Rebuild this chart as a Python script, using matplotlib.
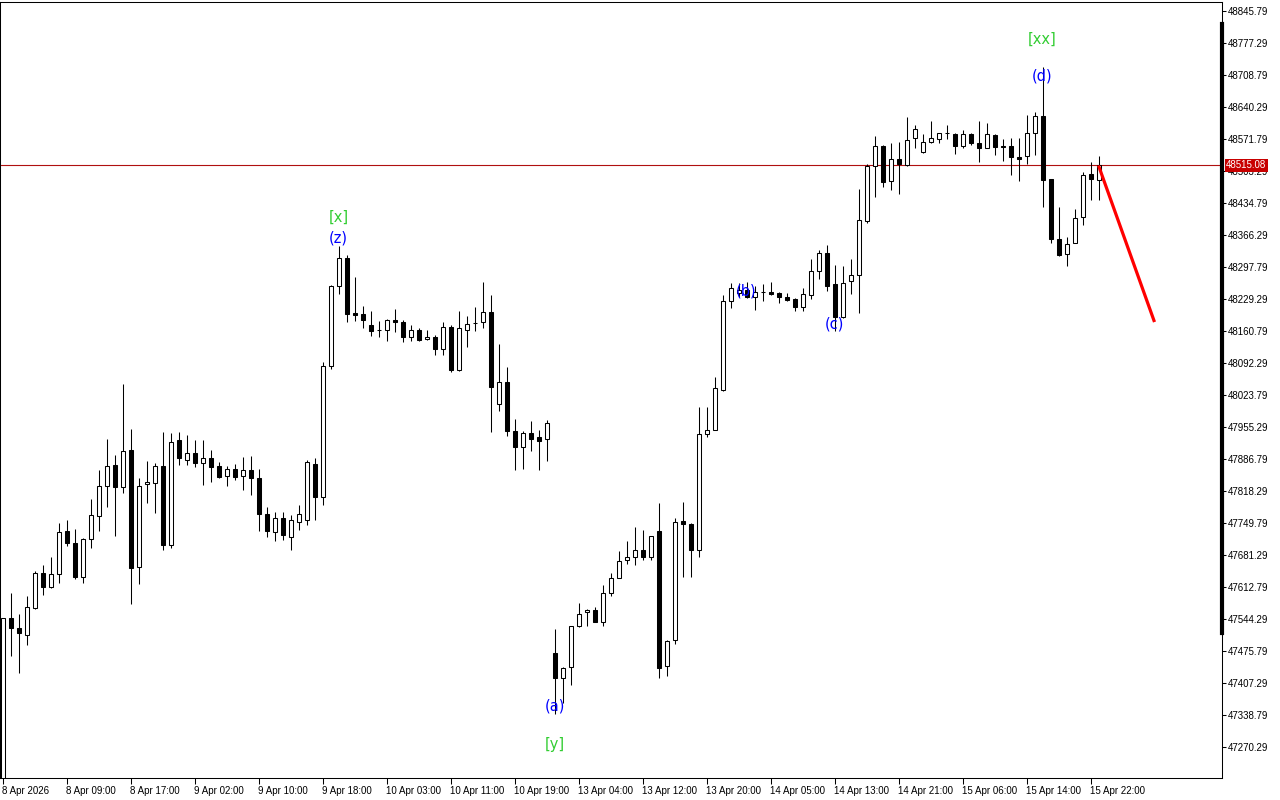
import matplotlib
matplotlib.use("Agg")
import matplotlib.pyplot as plt
from matplotlib.patches import Rectangle

# hourly candles from 8 Apr 2026 00:00 (bar index 0) to 15 Apr 22:00
opens = [47150, 47546, 47526, 47511, 47568, 47642, 47613, 47640, 47733, 47708,
         47635, 47715, 47765, 47828, 47873, 47826, 47906, 47656, 47833, 47835,
         47871, 47703, 47927, 47884, 47899, 47878, 47888, 47871, 47850, 47865,
         47850, 47863, 47846, 47768, 47731, 47760, 47720, 47752, 47756, 47876,
         47806, 48086, 48257, 48316, 48199, 48197, 48174, 48163, 48162, 48184,
         48179, 48147, 48164, 48143, 48148, 48123, 48169, 48078, 48164, 48177,
         48179, 48201, 48004, 48051, 47946, 47913, 47942, 47934, 47929, 47471,
         47419, 47442, 47530, 47559, 47563, 47537, 47601, 47631, 47670, 47678,
         47693, 47678, 47732, 47444, 47499, 47754, 47747, 47691, 47940, 47948,
         48035, 48224, 48243, 48249, 48233, 48244, 48244, 48242, 48234, 48229,
         48213, 48237, 48289, 48327, 48261, 48191, 48267, 48280, 48396, 48514,
         48556, 48481, 48530, 48516, 48575, 48543, 48565, 48571, 48584, 48582,
         48556, 48582, 48563, 48552, 48580, 48556, 48556, 48533, 48536, 48584,
         48620, 48486, 48357, 48325, 48349, 48404, 48496, 48483]
highs = [47546, 47599, 47556, 47594, 47647, 47660, 47676, 47749, 47756, 47738,
         47717, 47801, 47863, 47929, 47895, 48047, 47950, 47846, 47883, 47878,
         47945, 47942, 47944, 47938, 47927, 47927, 47905, 47880, 47871, 47876,
         47891, 47893, 47865, 47783, 47774, 47773, 47767, 47788, 47885, 47888,
         48094, 48259, 48343, 48324, 48276, 48214, 48204, 48182, 48186, 48208,
         48184, 48173, 48167, 48164, 48152, 48179, 48173, 48204, 48192, 48212,
         48266, 48237, 48134, 48084, 47972, 47946, 47968, 47948, 47970, 47522,
         47441, 47530, 47578, 47565, 47569, 47618, 47642, 47690, 47711, 47742,
         47735, 47721, 47792, 47499, 47761, 47795, 47749, 47998, 47999, 48063,
         48238, 48264, 48264, 48266, 48257, 48261, 48265, 48245, 48242, 48232,
         48252, 48314, 48335, 48344, 48302, 48300, 48314, 48464, 48518, 48578,
         48560, 48563, 48565, 48618, 48602, 48582, 48610, 48584, 48602, 48584,
         48591, 48584, 48610, 48605, 48582, 48571, 48573, 48573, 48624, 48629,
         48725, 48486, 48426, 48361, 48421, 48501, 48522, 48535]
lows = [47100, 47465, 47428, 47489, 47566, 47596, 47611, 47622, 47701, 47630,
        47622, 47697, 47733, 47785, 47723, 47815, 47577, 47620, 47793, 47772,
        47693, 47696, 47873, 47875, 47870, 47832, 47838, 47847, 47828, 47841,
        47821, 47810, 47733, 47719, 47712, 47713, 47692, 47735, 47746, 47756,
        47788, 48080, 48241, 48179, 48183, 48168, 48151, 48147, 48140, 48159,
        48137, 48139, 48140, 48142, 48110, 48110, 48072, 48076, 48127, 48160,
        48168, 47944, 47990, 47935, 47863, 47865, 47904, 47863, 47882, 47340,
        47365, 47404, 47528, 47530, 47537, 47529, 47593, 47631, 47661, 47659,
        47670, 47670, 47419, 47422, 47490, 47634, 47634, 47678, 47933, 47948,
        48033, 48211, 48234, 48231, 48205, 48226, 48237, 48220, 48224, 48204,
        48203, 48229, 48273, 48247, 48161, 48189, 48239, 48200, 48391, 48448,
        48469, 48463, 48453, 48513, 48552, 48541, 48563, 48563, 48571, 48539,
        48552, 48560, 48522, 48552, 48537, 48524, 48494, 48481, 48519, 48537,
        48426, 48349, 48321, 48300, 48349, 48387, 48442, 48442]
closes = [47546, 47524, 47514, 47569, 47642, 47613, 47640, 47731, 47708, 47635,
          47715, 47766, 47830, 47871, 47826, 47904, 47654, 47830, 47837, 47871,
          47703, 47923, 47890, 47899, 47878, 47888, 47870, 47849, 47865, 47849,
          47863, 47846, 47768, 47733, 47760, 47724, 47756, 47769, 47880, 47806,
          48086, 48257, 48316, 48197, 48196, 48185, 48161, 48164, 48184, 48179,
          48147, 48164, 48142, 48149, 48123, 48169, 48078, 48167, 48175, 48178,
          48201, 48041, 48051, 47946, 47913, 47942, 47930, 47926, 47964, 47419,
          47439, 47530, 47556, 47563, 47537, 47601, 47631, 47668, 47678, 47693,
          47678, 47721, 47439, 47497, 47751, 47747, 47691, 47940, 47948, 48039,
          48224, 48252, 48249, 48234, 48244, 48245, 48241, 48234, 48228, 48213,
          48239, 48289, 48327, 48258, 48191, 48263, 48280, 48398, 48514, 48556,
          48480, 48530, 48518, 48569, 48593, 48565, 48573, 48584, 48585, 48556,
          48582, 48563, 48552, 48582, 48554, 48554, 48533, 48530, 48584, 48620,
          48483, 48357, 48324, 48348, 48402, 48494, 48486, 48515.08]

bid = 48515.08
forecast_bars = [137, 144]
forecast_prices = [48515.08, 48180]

# wave labels: text, bar, anchor ("high"/"low"), pixel offset, colour
waves = [
    ("[x]", 42, "high", 29, "limegreen"),
    ("(z)", 42, "high", 8, "blue"),
    ("(a)", 69, "low", 8, "blue"),
    ("[y]", 69, "low", -30, "limegreen"),
    ("(b)", 93, "high", -9, "blue"),
    ("(c)", 104, "low", 7, "blue"),
    ("(d)", 130, "high", -9, "blue"),
    ("[xx]", 130, "high", 28, "limegreen"),
]

ytick_vals = [48845.79, 48777.29, 48708.79, 48640.29, 48571.79, 48503.29,
              48434.79, 48366.29, 48297.79, 48229.29, 48160.79, 48092.29,
              48023.79, 47955.29, 47886.79, 47818.29, 47749.79, 47681.29,
              47612.79, 47544.29, 47475.79, 47407.29, 47338.79, 47270.29]
xtick_labels = ["8 Apr 2026", "8 Apr 09:00", "8 Apr 17:00", "9 Apr 02:00",
                "9 Apr 10:00", "9 Apr 18:00", "10 Apr 03:00", "10 Apr 11:00",
                "10 Apr 19:00", "13 Apr 04:00", "13 Apr 12:00", "13 Apr 20:00",
                "14 Apr 05:00", "14 Apr 13:00", "14 Apr 21:00", "15 Apr 06:00",
                "15 Apr 14:00", "15 Apr 22:00"]
xtick_step = 8

W, H = 1280, 800
ax_left, ax_right, ax_top, ax_bottom = 0, 1222, 2, 778
bar_px = 8
first_bar_px = 2.5
px_per_price = 32 / 68.5
top_tick_px = 11

fig = plt.figure(figsize=(W / 100, H / 100), dpi=100)
ax = fig.add_axes([ax_left / W, (H - ax_bottom) / H,
                   (ax_right - ax_left) / W, (ax_bottom - ax_top) / H])

x0 = -first_bar_px / bar_px
ax.set_xlim(x0, x0 + (ax_right - ax_left) / bar_px)
y_hi = ytick_vals[0] + (top_tick_px - ax_top) / px_per_price
y_lo = ytick_vals[0] - (ax_bottom - top_tick_px) / px_per_price
ax.set_ylim(y_lo, y_hi)

lw = 0.75
body_w = 0.5
for i, (o, h, l, c) in enumerate(zip(opens, highs, lows, closes)):
    ax.plot([i, i], [l, h], color="black", lw=lw, solid_capstyle="butt",
            zorder=2)
    bottom = min(o, c)
    height = max(abs(c - o), 0.01)
    face = "white" if c >= o else "black"
    ax.add_patch(Rectangle((i - body_w / 2, bottom), body_w, height,
                           facecolor=face, edgecolor="black", lw=lw, zorder=3))

ax.axhline(bid, color="#b01010", lw=0.8, zorder=1)
ax.plot(forecast_bars, forecast_prices, color="red", lw=2.3,
        solid_capstyle="butt", zorder=4)

for text, bar, anchor, off, col in waves:
    price = highs[bar] if anchor == "high" else lows[bar]
    ax.annotate(text, xy=(bar, price), xytext=(0, off),
                textcoords="offset pixels", ha="center", va="center",
                color=col, fontsize=10.5, zorder=5)

ax.set_yticks(ytick_vals)
ax.set_yticklabels([f"{v:.2f}" for v in ytick_vals])
ax.yaxis.tick_right()
ax.tick_params(axis="y", direction="out", length=3, width=0.75, pad=1.5,
               labelsize=7, labelfontfamily="Liberation Sans")

xt = list(range(0, len(xtick_labels) * xtick_step, xtick_step))
ax.set_xticks(xt)
ax.set_xticklabels(xtick_labels, ha="left")
ax.tick_params(axis="x", direction="out", length=4, width=0.75, pad=1.5,
               labelsize=7, labelfontfamily="Liberation Sans")

for sp in ax.spines.values():
    sp.set_linewidth(0.75)

# current price tag on the price scale
ax.annotate(f"{bid:.2f}", xy=(1, bid), xycoords=("axes fraction", "data"),
            xytext=(4, 0), textcoords="offset pixels", ha="left", va="center",
            color="white", fontsize=7, family="Liberation Sans",
            bbox=dict(boxstyle="square,pad=0.15", fc="#c80000", ec="none"),
            zorder=6, annotation_clip=False)

# thick scale marker on the right border
ax.plot([1, 1], [(ax_bottom - 633) / (ax_bottom - ax_top),
                 (ax_bottom - 24) / (ax_bottom - ax_top)],
        transform=ax.transAxes, color="black", lw=3, clip_on=False, zorder=6)

fig.savefig("out.png", dpi=100)
